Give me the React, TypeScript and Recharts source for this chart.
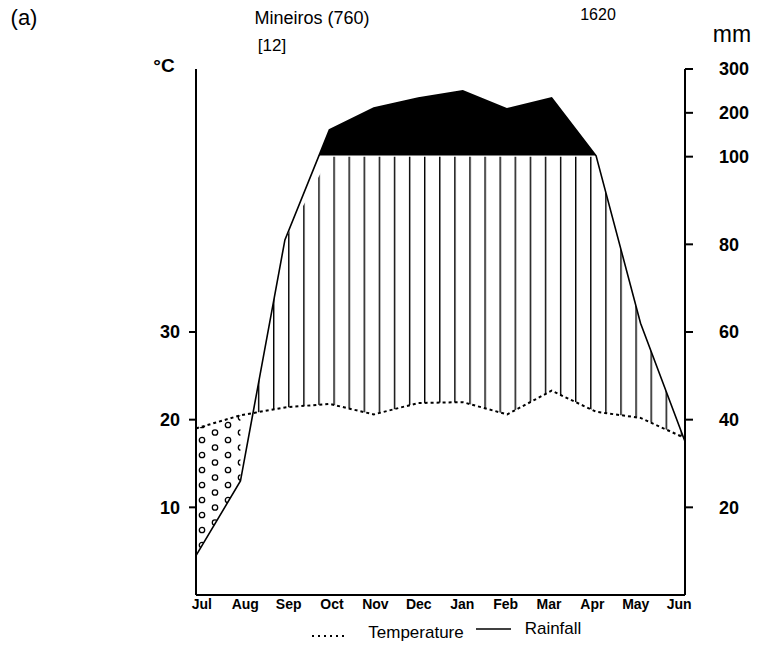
import React from 'react';
import { ComposedChart, Area, Line, XAxis, YAxis } from 'recharts';

const months = ['Jul', 'Aug', 'Sep', 'Oct', 'Nov', 'Dec', 'Jan', 'Feb', 'Mar', 'Apr', 'May', 'Jun'];
const temperature = [19.0, 20.5, 21.4, 21.8, 20.6, 21.9, 22.0, 20.6, 23.3, 20.9, 20.2, 17.9];
const rainfall = [9, 26, 81, 161, 211, 234, 250, 209, 234, 102, 62, 35];
const tempTicks = [10, 20, 30];
const rainTicks = [20, 40, 60, 80, 100, 200, 300];

// Walter-Lieth display scale: 10 degC = 20 mm, above 100 mm compressed 1:10
const rainToScale = (v: number) => (v <= 100 ? v : 100 + (v - 100) / 10);
const scaleToRain = (d: number) => (d <= 100 ? d : 100 + (d - 100) * 10);
const tempToScale = (t: number) => t * 2;

const data = months.map((m, i) => {
  const r = rainToScale(rainfall[i]);
  const t = tempToScale(temperature[i]);
  return {
    i,
    month: m,
    t,
    r,
    rc: Math.min(r, 100),
    hundred: 100.25,
    arid: r < t ? [r, t] : null,
  };
});

const FONT = '"Liberation Sans", Arial, Helvetica, sans-serif';

const Txt = ({ x, y, size, bold, children }: any) => (
  <div
    style={{
      position: 'absolute',
      left: x,
      top: y,
      transform: 'translate(-50%, -50%)',
      fontSize: size,
      fontWeight: bold ? 'bold' : 'normal',
      whiteSpace: 'nowrap',
      fontFamily: FONT,
      color: '#000',
      lineHeight: 1,
    }}
  >
    {children}
  </div>
);

// month labels sit slightly inward of the axis ends, as in the printed figure
const MonthTick = (props: any) => {
  const { x, y, payload } = props;
  const cx = 440.5;
  const nx = cx + (x - cx) * 0.976;
  return (
    <text x={nx} y={y} dy="0.71em" textAnchor="middle" fill="#000" fontSize={14} fontWeight="bold" fontFamily={FONT}>
      {months[payload.value]}
    </text>
  );
};

export default function App() {
  return (
    <div style={{ position: 'absolute', left: 0, top: 0, width: 758, height: 659, background: '#fff', fontFamily: FONT }}>
      <ComposedChart width={758} height={659} data={data} margin={{ top: 69, right: 13, bottom: 34, left: 136 }}>
        <defs>
          <pattern id="stripes" patternUnits="userSpaceOnUse" x={273} y={0} width={15.1} height={10}>
            <rect x={0} y={0} width={1.4} height={10} fill="#000" />
          </pattern>
          <pattern id="circles" patternUnits="userSpaceOnUse" x={196} y={421} width={26} height={15}>
            <circle cx={6} cy={4} r={2.7} fill="none" stroke="#000" strokeWidth={1.3} />
            <circle cx={19} cy={11.5} r={2.7} fill="none" stroke="#000" strokeWidth={1.3} />
          </pattern>
        </defs>
        <XAxis
          dataKey="i"
          type="number"
          domain={[0, 11]}
          ticks={months.map((_, i) => i)}
          interval={0}
          tickLine={false}
          axisLine={{ stroke: '#000', strokeWidth: 2 }}
          tick={<MonthTick />}
          tickSize={4}
          tickMargin={0}
          height={30}
        />
        <YAxis
          yAxisId="left"
          domain={[0, 120]}
          ticks={tempTicks.map(tempToScale)}
          tickFormatter={(v: number) => String(v / 2)}
          axisLine={{ stroke: '#000', strokeWidth: 2 }}
          tickLine={{ stroke: '#000', strokeWidth: 2 }}
          tickSize={7}
          tickMargin={9}
          width={60}
          tick={{ fill: '#000', fontSize: 18, fontWeight: 'bold', fontFamily: FONT }}
        />
        <YAxis
          yAxisId="right"
          orientation="right"
          domain={[0, 120]}
          ticks={rainTicks.map(rainToScale)}
          tickFormatter={(v: number) => String(Math.round(scaleToRain(v)))}
          axisLine={{ stroke: '#000', strokeWidth: 2 }}
          tickLine={{ stroke: '#000', strokeWidth: 2 }}
          tickSize={8}
          tickMargin={26}
          width={60}
          tick={{ fill: '#000', fontSize: 18, fontWeight: 'bold', fontFamily: FONT, textAnchor: 'start' }}
        />
        <Area yAxisId="left" type="linear" dataKey="r" baseValue={100} fill="#000" fillOpacity={1} stroke="none" isAnimationActive={false} dot={false} activeDot={false} />
        <Area yAxisId="left" type="linear" dataKey="hundred" baseValue={0} fill="#fff" fillOpacity={1} stroke="none" isAnimationActive={false} dot={false} activeDot={false} />
        <Area yAxisId="left" type="linear" dataKey="rc" baseValue={0} fill="url(#stripes)" fillOpacity={1} stroke="none" isAnimationActive={false} dot={false} activeDot={false} />
        <Area yAxisId="left" type="linear" dataKey="t" baseValue={0} fill="#fff" fillOpacity={1} stroke="none" isAnimationActive={false} dot={false} activeDot={false} />
        <Area yAxisId="left" type="linear" dataKey="arid" fill="url(#circles)" fillOpacity={1} stroke="none" isAnimationActive={false} dot={false} activeDot={false} />
        <Line yAxisId="left" type="linear" dataKey="r" stroke="#000" strokeWidth={1.6} dot={false} activeDot={false} isAnimationActive={false} />
        <Line yAxisId="left" type="linear" dataKey="t" stroke="#000" strokeWidth={2} strokeDasharray="3 3" dot={false} activeDot={false} isAnimationActive={false} />
        <Line yAxisId="right" type="linear" dataKey="r" stroke="none" dot={false} activeDot={false} isAnimationActive={false} />
      </ComposedChart>

      <Txt x={24} y={18} size={22}>(a)</Txt>
      <Txt x={312} y={18} size={18}>Mineiros (760)</Txt>
      <Txt x={598} y={15} size={16}>1620</Txt>
      <Txt x={732} y={34} size={23}>mm</Txt>
      <Txt x={272} y={45} size={17}>[12]</Txt>
      <Txt x={164} y={65} size={19} bold>°C</Txt>

      <svg style={{ position: 'absolute', left: 0, top: 0 }} width={758} height={659}>
        <line x1={312} y1={636} x2={346} y2={636} stroke="#000" strokeWidth={2} strokeDasharray="2 4" />
        <line x1={476} y1={629} x2={511} y2={629} stroke="#000" strokeWidth={1.5} />
      </svg>
      <Txt x={416} y={632} size={17}>Temperature</Txt>
      <Txt x={553} y={628} size={17}>Rainfall</Txt>
    </div>
  );
}
